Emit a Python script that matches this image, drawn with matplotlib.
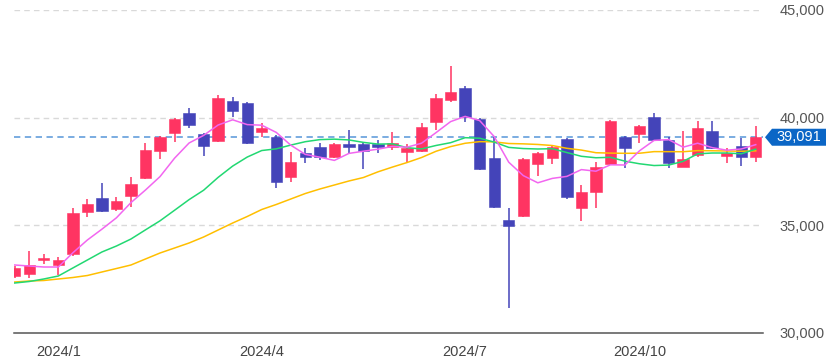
import matplotlib

matplotlib.use("Agg")
import matplotlib.pyplot as plt
from matplotlib.patches import Polygon

plt.rcParams["font.family"] = ["Liberation Sans", "DejaVu Sans"]

# --- Data (weekly candles) -------------------------------------------------
opens = [32650, 32740, 33390, 33158, 33669, 35619, 36269, 35758, 36362, 37198,
         38452, 39288, 40217, 39242, 38916, 40774, 40681, 39334, 39102, 37245,
         38359, 38638, 38173, 38777, 38777, 38777, 38638, 38406, 38452, 39799,
         40820, 41378, 39938, 38127, 35248, 35433, 37848, 38127, 39009, 35805,
         36548, 37848, 39102, 39242, 40031, 38963, 37709, 38266, 39381, 38220,
         38684, 38173]
highs = [33110, 33808, 33669, 33529, 35805, 36223, 36966, 36316, 37245, 38824,
         39149, 39985, 40449, 39290, 41053, 40960, 40728, 39752, 39195, 38406,
         38591, 38824, 38824, 39427, 38824, 38963, 39334, 38777, 39752, 41099,
         42399, 41471, 39985, 39102, 35805, 38127, 38406, 38684, 39056, 36873,
         37941, 39892, 39149, 39660, 40217, 39102, 39381, 39845, 39845, 38591,
         39056, 39613]
lows = [32560, 32554, 33204, 32694, 33576, 35387, 35619, 35666, 35851, 37152,
        38081, 38870, 39520, 38220, 38870, 40031, 38777, 39102, 36734, 37012,
        37895, 38034, 38127, 38359, 37616, 38359, 38499, 37941, 38406, 39427,
        40728, 39799, 37570, 35805, 31161, 35387, 37291, 37848, 36223, 35201,
        35805, 37802, 37662, 38824, 38916, 37662, 37709, 38173, 38545, 37895,
        37755, 37941]
closes = [33020, 33158, 33483, 33390, 35573, 35991, 35666, 36130, 36920, 38499,
          39102, 39938, 39660, 38684, 40913, 40310, 38824, 39520, 37012, 37941,
          38173, 38173, 38777, 38638, 38452, 38638, 38824, 38591, 39567, 40913,
          41192, 40031, 37616, 35851, 34969, 38081, 38359, 38638, 36316, 36548,
          37709, 39845, 38591, 39613, 38963, 37895, 38081, 39520, 38591, 38359,
          38173, 39091]

ma_short = [33158, 33111, 33065, 33065, 33725, 34319, 34821, 35350, 36056, 36641,
            37263, 38118, 38824, 39177, 39659, 39901, 39678, 39650, 39316, 38721,
            38294, 38164, 38015, 38340, 38443, 38536, 38666, 38629, 38814, 39307,
            39817, 40059, 39864, 39121, 37932, 37310, 36975, 37180, 37273, 37588,
            37514, 37811, 37802, 38461, 38944, 38981, 38629, 38814, 38610, 38489,
            38545, 38747]
ma_mid = [32322, 32392, 32508, 32647, 33019, 33390, 33762, 34040, 34365, 34790,
          35210, 35700, 36194, 36630, 37227, 37752, 38170, 38474, 38552, 38727,
          38884, 38981, 39002, 38966, 38852, 38773, 38784, 38606, 38548, 38709,
          38838, 39070, 39045, 38866, 38620, 38566, 38545, 38559, 38381, 38206,
          38138, 38159, 37980, 37859, 37777, 37798, 37970, 38320, 38359, 38359,
          38323, 38537]
ma_long = [32368, 32415, 32438, 32508, 32577, 32670, 32833, 32995, 33158, 33437,
           33715, 33947, 34180, 34458, 34783, 35108, 35410, 35735, 35968, 36223,
           36478, 36687, 36873, 37059, 37221, 37484, 37707, 37916, 38150, 38440,
           38656, 38811, 38886, 38875, 38800, 38784, 38756, 38706, 38577, 38495,
           38372, 38354, 38345, 38348, 38423, 38422, 38418, 38470, 38463, 38452,
           38441, 38459]

tick_pos = [3, 17, 31, 43]
tick_labels = ["2024/1", "2024/4", "2024/7", "2024/10"]
y_ticks = [30000, 35000, 40000, 45000]
last_price = 39091

# --- Plot -------------------------------------------------------------------
W, H = 836, 362
fig = plt.figure(figsize=(W / 100, H / 100), dpi=100)
ax_l, ax_r, ax_t, ax_b = 14, 763, 10, 333
ax = fig.add_axes([ax_l / W, 1 - ax_b / H, (ax_r - ax_l) / W, (ax_b - ax_t) / H])

c_up = "#ff3462"
c_down = "#4444b9"
c_grid = "#d9d9d9"
c_text = "#444444"

ymin, ymax = 30000, 45000
xs = list(range(len(closes)))

# grid lines
for v in y_ticks[1:]:
    ax.axhline(v, color=c_grid, linewidth=1.0, linestyle=(0, (4, 3)), zorder=0)

# last price line
ax.axhline(last_price, color="#6fa6de", linewidth=1.3, linestyle=(0, (3.5, 2.5)), zorder=1)

# candles
body_w = 0.78
min_body = (ymax - ymin) / (ax_b - ax_t) * 1.5
for x, o, h, l, c in zip(xs, opens, highs, lows, closes):
    col = c_up if c >= o else c_down
    ax.vlines(x, l, h, color=col, linewidth=1.1, zorder=2)
    bottom = min(o, c)
    height = max(abs(c - o), min_body)
    ax.bar(x, height, bottom=bottom, width=body_w, color=col,
           edgecolor=col, linewidth=0.4, zorder=3)

# moving averages
ax.plot(xs, ma_long, color="#ffbf00", linewidth=1.1, zorder=4)
ax.plot(xs, ma_mid, color="#22d872", linewidth=1.1, zorder=4)
ax.plot(xs, ma_short, color="#f266f0", linewidth=1.1, zorder=5)

ax.set_xlim(-0.05, 51.5)
ax.set_ylim(ymin, ymax)

ax.set_xticks(tick_pos)
ax.set_xticklabels(tick_labels)
ax.yaxis.tick_right()
ax.set_yticks(y_ticks)
ax.set_yticklabels([f"{v:,}" for v in y_ticks])
ax.tick_params(axis="y", length=0, pad=12, labelsize=10.5, labelcolor="#555555")
ax.tick_params(axis="x", length=0, pad=9, labelsize=10.5, labelcolor=c_text)

for name, spine in ax.spines.items():
    spine.set_visible(name == "bottom")
ax.spines["bottom"].set_color("#555555")
ax.spines["bottom"].set_linewidth(1.1)

# price tag on the right
yc = ax_b - (last_price - ymin) / (ymax - ymin) * (ax_b - ax_t)
hh = 8.5
pts = [(765, yc), (772, yc - hh), (826, yc - hh), (826, yc + hh), (772, yc + hh)]
tag = Polygon([(px / W, 1 - py / H) for px, py in pts], closed=True,
              transform=fig.transFigure, facecolor="#0b66c6", edgecolor="none")
fig.patches.append(tag)
fig.text(799 / W, 1 - yc / H, f"{last_price:,}", color="white", fontsize=10.5,
         ha="center", va="center")

fig.savefig("out.png", dpi=100, facecolor="white")
